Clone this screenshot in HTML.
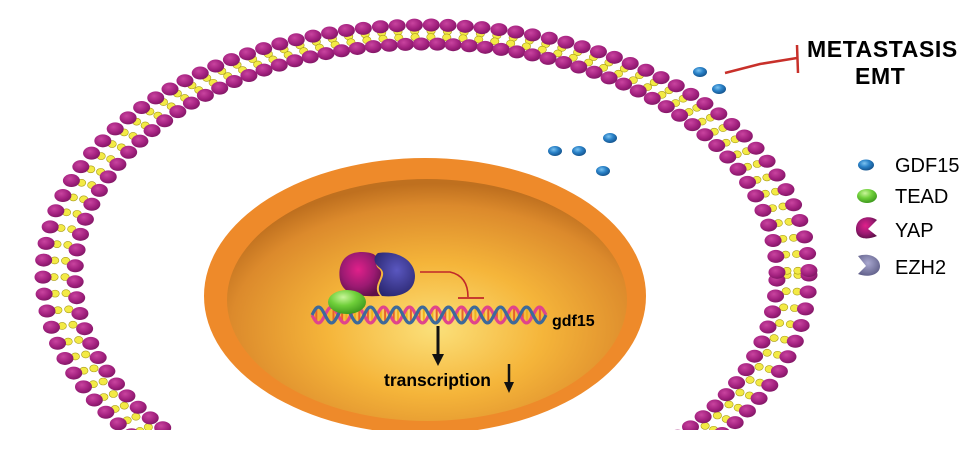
<!DOCTYPE html>
<html><head><meta charset="utf-8"><style>
html,body{margin:0;padding:0;background:#fff;width:980px;height:461px;overflow:hidden;}
svg{display:block}
text{font-family:"Liberation Sans",Arial,sans-serif;}
</style></head><body>
<svg id="s" width="980" height="461" viewBox="0 0 980 461" xmlns="http://www.w3.org/2000/svg">
<defs>
<radialGradient id="bead" cx="40%" cy="35%" r="70%">
<stop offset="0" stop-color="#c9449f"/><stop offset="0.6" stop-color="#a3217f"/><stop offset="1" stop-color="#7d1662"/></radialGradient>
<radialGradient id="nuc" cx="52%" cy="62%" r="60%">
<stop offset="0" stop-color="#fbe07a"/><stop offset="0.45" stop-color="#f5b53a"/><stop offset="0.85" stop-color="#dc8a2c"/><stop offset="1" stop-color="#bf701f"/></radialGradient>
<radialGradient id="blue" cx="40%" cy="35%" r="65%"><stop offset="0" stop-color="#7cc3f0"/><stop offset="0.5" stop-color="#2a82c8"/><stop offset="1" stop-color="#15558f"/></radialGradient>
<radialGradient id="green" cx="40%" cy="30%" r="70%"><stop offset="0" stop-color="#c9f59a"/><stop offset="0.5" stop-color="#6fcf3a"/><stop offset="1" stop-color="#3f9a1e"/></radialGradient>
<radialGradient id="yap" cx="45%" cy="40%" r="65%"><stop offset="0" stop-color="#e0208a"/><stop offset="0.6" stop-color="#9b1a72"/><stop offset="1" stop-color="#5e1048"/></radialGradient>
<radialGradient id="ezh" cx="55%" cy="40%" r="65%"><stop offset="0" stop-color="#5a57c0"/><stop offset="1" stop-color="#2a2770"/></radialGradient>
<radialGradient id="ezhl" cx="45%" cy="40%" r="65%"><stop offset="0" stop-color="#a9a8d0"/><stop offset="1" stop-color="#5f5e88"/></radialGradient>
<clipPath id="cut"><rect x="0" y="0" width="980" height="430"/></clipPath>
</defs>
<g id="mem" clip-path="url(#cut)"></g>
<g clip-path="url(#cut)">
<ellipse cx="425" cy="296" rx="221" ry="138" fill="#ee8a2a"/>
<ellipse cx="427" cy="300" rx="200" ry="121" fill="url(#nuc)"/>
</g>
<g id="dna"></g>
<path d="M362 252 C340 252 338 270 340 280 C343 295 360 297 380 296 C370 285 388 275 378 268 C372 262 385 253 362 252Z" fill="url(#yap)"/>
<path d="M378 253 C400 250 415 262 415 276 C415 292 400 298 382 296 C372 285 390 276 380 268 C372 262 374 256 378 253Z" fill="url(#ezh)"/>
<ellipse cx="347" cy="302" rx="19" ry="12" fill="url(#green)"/>
<path d="M420 272 L450 272 Q468 276 468 297" fill="none" stroke="#c0282a" stroke-width="1.6"/>
<line x1="458" y1="298" x2="484" y2="298" stroke="#c0282a" stroke-width="1.8"/>
<text x="552" y="326" font-size="16" font-weight="bold">gdf15</text>
<line x1="438" y1="326" x2="438" y2="356" stroke="#111" stroke-width="3"/>
<polygon points="432,354 444,354 438,366" fill="#111"/>
<text x="384" y="386" font-size="17.5" font-weight="bold">transcription</text>
<line x1="509" y1="364" x2="509" y2="384" stroke="#111" stroke-width="2.5"/>
<polygon points="504,382 514,382 509,393" fill="#111"/>
<g fill="url(#blue)">
<ellipse cx="700" cy="72" rx="7" ry="5"/><ellipse cx="719" cy="89" rx="7" ry="5"/>
<ellipse cx="555" cy="151" rx="7" ry="5"/><ellipse cx="579" cy="151" rx="7" ry="5"/>
<ellipse cx="610" cy="138" rx="7" ry="5"/><ellipse cx="603" cy="171" rx="7" ry="5"/>
</g>
<path d="M725 73 L760 64 L797 58" fill="none" stroke="#c8302a" stroke-width="2.5"/>
<line x1="797" y1="45" x2="798" y2="73" stroke="#c8302a" stroke-width="2.5"/>
<text x="807" y="57" font-size="23" font-weight="bold" letter-spacing="0.6">METASTASIS</text>
<text x="855" y="84" font-size="23" font-weight="bold" letter-spacing="0.6">EMT</text>
<ellipse cx="866" cy="165" rx="8" ry="5.5" fill="url(#blue)"/>
<text x="895" y="172" font-size="20">GDF15</text>
<ellipse cx="867" cy="196" rx="10" ry="7" fill="url(#green)"/>
<text x="895" y="203" font-size="20">TEAD</text>
<path d="M877 220 C868 214 856 218 856 229 C856 240 868 240 877 236 L868 229Z" fill="url(#yap)"/>
<text x="895" y="237" font-size="20">YAP</text>
<path d="M858 256 C870 252 880 258 880 266 C880 275 868 278 858 274 L866 266Z" fill="url(#ezhl)"/>
<text x="895" y="274" font-size="20">EZH2</text>
</svg>
<script>
(function(){
var NS="http://www.w3.org/2000/svg";
var mem=document.getElementById('mem');
function el(t,a,p){var e=document.createElementNS(NS,t);for(var k in a)e.setAttribute(k,a[k]);(p||mem).appendChild(e);return e;}
var cx=426,cy=275;
function ring(rx,ry,step,off,fn){
  var N=6000,acc=0,next=off,px=null,py=null;
  for(var i=0;i<=N;i++){var t=Math.PI*2*i/N;var x=cx+rx*Math.cos(t),y=cy+ry*Math.sin(t);
    if(px!==null)acc+=Math.hypot(x-px,y-py);
    if(acc>=next){fn(x,y,t);next+=step;}
    px=x;py=y;}
}
var tails=[],beads=[];
ring(383,250,17,0,function(x,y,t){beads.push([x,y]);
  var r1=[383-11,250-6],r2=[383-22,250-12];
  tails.push([cx+r1[0]*Math.cos(t),cy+r1[1]*Math.sin(t)]);tails.push([cx+r2[0]*Math.cos(t),cy+r2[1]*Math.sin(t)]);});
ring(351,231,16,5,function(x,y,t){beads.push([x,y]);});
tails.forEach(function(p){el('ellipse',{cx:p[0],cy:p[1],rx:4.2,ry:3.5,fill:'#f3ea45',stroke:'#a89a18','stroke-width':0.6});});
beads.forEach(function(p){el('ellipse',{cx:p[0],cy:p[1],rx:8.5,ry:6.5,fill:'url(#bead)'});});
var d=document.getElementById('dna');
var x0=312,x1=546,yc=315,A=8,P=26;
for(var x=x0;x<=x1;x+=4.3){var s1=yc+A*Math.sin((x-x0)/P*2*Math.PI),s2=yc-A*Math.sin((x-x0)/P*2*Math.PI);
  el('line',{x1:x,y1:s1,x2:x,y2:s2,stroke:(Math.round(x/4.3)%2?'#f0b21e':'#e8622a'),'stroke-width':2},d);}
function strand(sign,col){var p='';for(var x=x0;x<=x1;x+=1){var y=yc+sign*A*Math.sin((x-x0)/P*2*Math.PI);p+=(x==x0?'M':'L')+x+' '+y.toFixed(1);}
  el('path',{d:p,fill:'none',stroke:col,'stroke-width':3.2},d);}
strand(1,'#e0448c');strand(-1,'#3d6a9a');
})();
</script>
</body></html>
